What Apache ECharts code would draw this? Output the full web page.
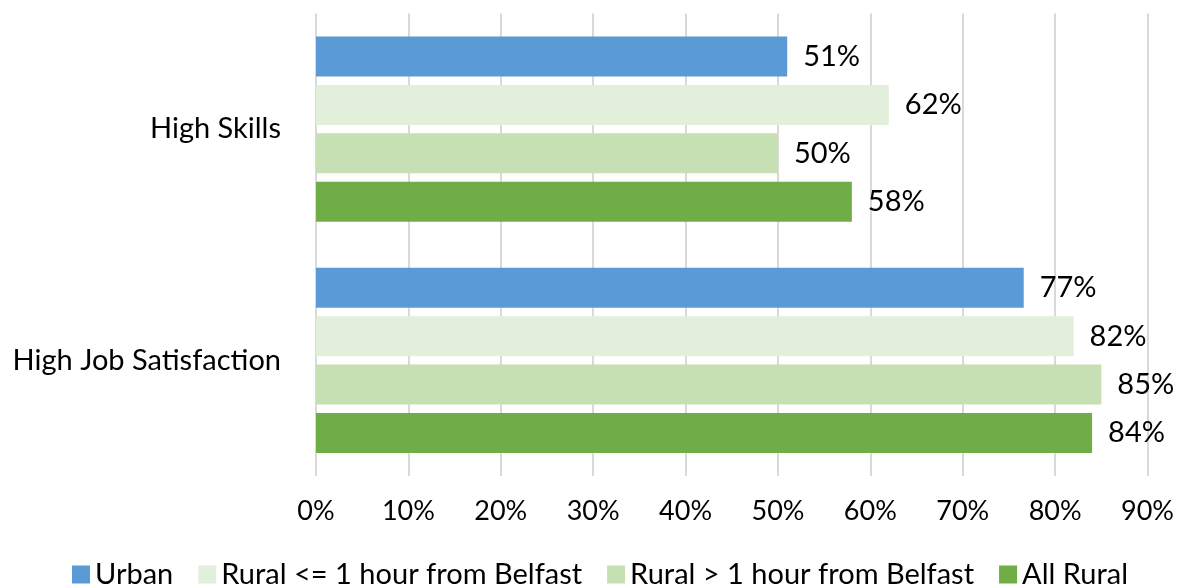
<!DOCTYPE html>
<html>
<head>
<meta charset="utf-8">
<script src="https://cdn.jsdelivr.net/npm/echarts@6/dist/echarts.min.js"></script>
<style>
  html, body { margin: 0; padding: 0; background: #fff; }
  #chart { width: 1177px; height: 587px; }
</style>
</head>
<body>
<div id="chart"></div>
<script>
// categories, top to bottom
const categories = ['High Skills', 'High Job Satisfaction']
const seriesNames = ['Urban', 'Rural <= 1 hour from Belfast', 'Rural > 1 hour from Belfast', 'All Rural']
// values in percent
const urban = [51, 76.6]
const ruralNear = [62, 82]
const ruralFar = [50, 85]
const allRural = [58, 84]
const colors = ['#5b9bd5', '#e2efda', '#c6e0b4', '#70ad47']

const FONT = 'Lato'
const ec = echarts.init(document.getElementById('chart'))

const values = [urban, ruralNear, ruralFar, allRural]

ec.setOption({
    animation: false,
    textStyle: { fontFamily: FONT },
    grid: { left: 316, right: 27, top: 13.5, bottom: 111 },
    legend: {
        top: 555,
        left: 67,
        icon: 'rect',
        itemWidth: 18,
        itemHeight: 18,
        itemGap: 25,
        textStyle: { fontFamily: FONT, fontSize: 29, color: '#000' },
        data: seriesNames
    },
    xAxis: {
        type: 'value',
        min: 0,
        max: 90,
        interval: 10,
        axisLine: { show: false },
        axisTick: { show: false },
        axisLabel: { formatter: '{value}%', fontSize: 27, color: '#000', margin: 22, fontFamily: FONT },
        splitLine: { lineStyle: { color: '#d9d9d9', width: 2 } }
    },
    yAxis: {
        type: 'category',
        inverse: true,
        data: categories,
        axisLine: { show: false },
        axisTick: { show: false },
        axisLabel: { fontSize: 29, color: '#000', margin: 35, fontFamily: FONT }
    },
    series: seriesNames.map((name, i) => ({
        name,
        type: 'bar',
        data: values[i],
        barWidth: 40,
        barGap: '21%',
        itemStyle: { color: colors[i] },
        label: {
            show: true,
            position: 'right',
            distance: 16,
            fontSize: 29,
            color: '#000',
            fontFamily: FONT,
            formatter: p => Math.round(p.value) + '%'
        }
    }))
})
</script>
</body>
</html>
